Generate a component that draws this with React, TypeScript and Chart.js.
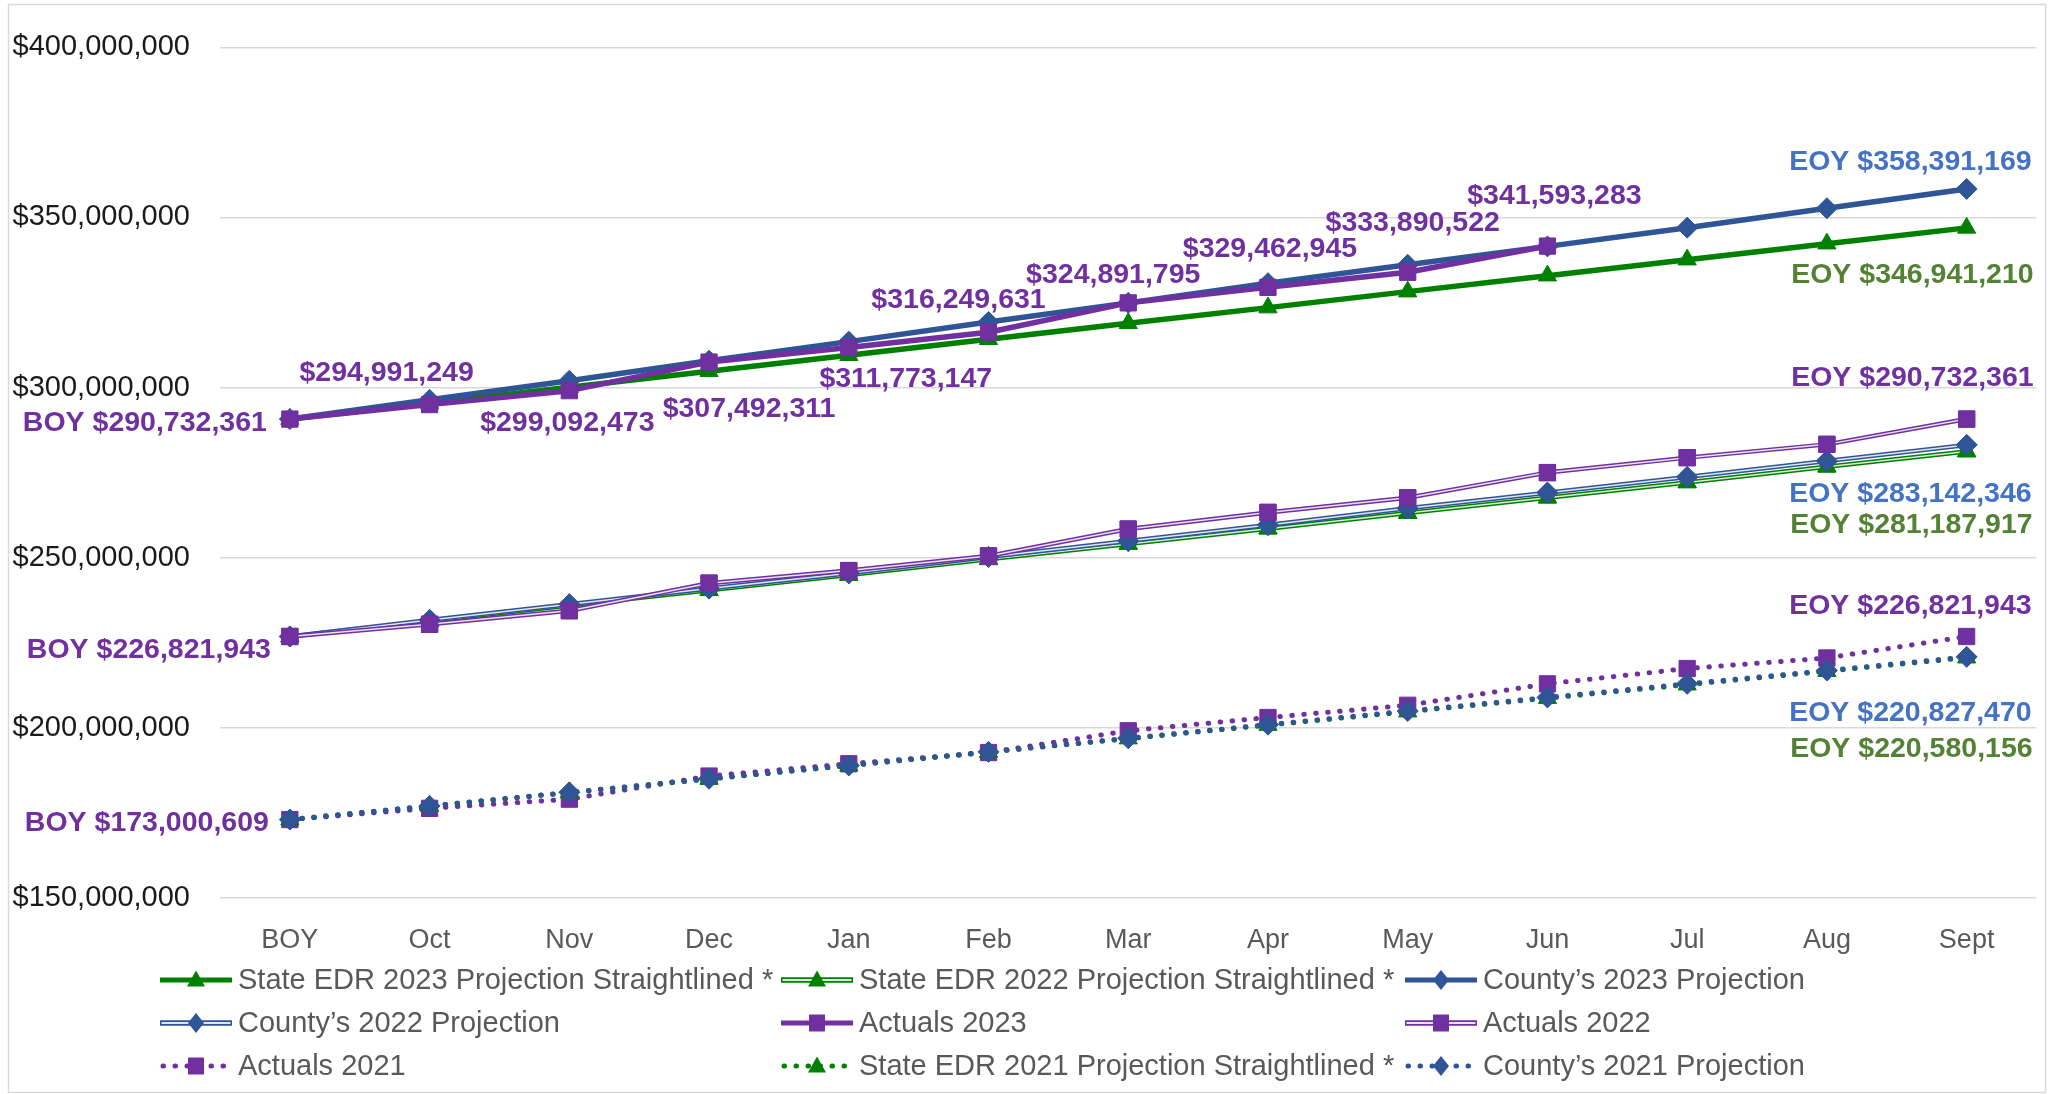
import React, { useEffect, useRef } from 'react';
import { Chart, registerables } from 'chart.js';

Chart.register(...registerables);

// ---------------- data ----------------
const categories = ['BOY', 'Oct', 'Nov', 'Dec', 'Jan', 'Feb', 'Mar', 'Apr', 'May', 'Jun', 'Jul', 'Aug', 'Sept'];

const stateEdr2023 = [290732361, 295400000, 300100000, 304800000, 309500000, 314200000, 318900000, 323500000, 328200000, 332900000, 337600000, 342300000, 346941210];
const stateEdr2022 = [226821943, 231350000, 235900000, 240400000, 244900000, 249500000, 254000000, 258500000, 263100000, 267600000, 272100000, 276700000, 281187917];
const county2023 = [290732361, 296400000, 302000000, 307900000, 313500000, 319300000, 324900000, 330700000, 336100000, 341500000, 347000000, 352700000, 358391169];
const county2022 = [226821943, 231700000, 236300000, 240900000, 245400000, 250200000, 254900000, 259600000, 264500000, 269100000, 273700000, 278400000, 283142346];
const actuals2023 = [290732361, 294991249, 299092473, 307492311, 311773147, 316249631, 324891795, 329462945, 333890522, 341593283, null, null, null];
const actuals2022 = [226821943, 230400000, 234400000, 242500000, 246200000, 250500000, 258400000, 263300000, 267600000, 275000000, 279400000, 283300000, 290732361];
const actuals2021 = [173000609, 176300000, 179000000, 185800000, 189400000, 192700000, 199100000, 203000000, 206600000, 212900000, 217400000, 220500000, 226821943];
const stateEdr2021 = [173000609, 176970000, 180930000, 184900000, 188860000, 192830000, 196790000, 200760000, 204720000, 208690000, 212650000, 216620000, 220580156];
const county2021 = [173000609, 177000000, 181000000, 185000000, 188900000, 192900000, 196900000, 200900000, 204900000, 208900000, 212900000, 216800000, 220827470];

const seriesNames = [
  'State EDR 2023 Projection Straightlined *',
  'State EDR 2022 Projection Straightlined *',
  'County\u2019s 2023 Projection',
  'County\u2019s 2022 Projection',
  'Actuals 2023',
  'Actuals 2022',
  'Actuals 2021',
  'State EDR 2021 Projection Straightlined *',
  'County\u2019s 2021 Projection',
];

const yTicks = { min: 150000000, max: 400000000, step: 50000000 };

// ---------------- styles ----------------
const FONT = '"Liberation Sans", Arial, sans-serif';
const GREEN = '#008000';
const BLUE = '#2F5597';
const PURPLE = '#7030A0';
const LABEL_BLUE = '#4472C4';
const LABEL_GREEN = '#548235';

type Kind = 'solid' | 'double' | 'dotted';
type Marker = 'triangle' | 'rectRot' | 'rect';

const seriesData = [stateEdr2023, stateEdr2022, county2023, county2022, actuals2023, actuals2022, actuals2021, stateEdr2021, county2021];
const seriesColor = [GREEN, GREEN, BLUE, BLUE, PURPLE, PURPLE, PURPLE, GREEN, BLUE];
const seriesKind: Kind[] = ['solid', 'double', 'solid', 'double', 'solid', 'double', 'dotted', 'dotted', 'dotted'];
const seriesMarker: Marker[] = ['triangle', 'triangle', 'rectRot', 'rectRot', 'rect', 'rect', 'rect', 'triangle', 'rectRot'];
const markerRadius: Record<Marker, number> = { triangle: 10.5, rectRot: 10.5, rect: 11.5 };

// data labels: series index, point index, prefix, colour, alignment and offset from the point
const labelDefs = [
  { s: 4, p: 0, pre: 'BOY ', color: PURPLE, align: 'right', dx: -23, dy: 4 },
  { s: 4, p: 1, pre: '', color: PURPLE, align: 'center', dx: -43, dy: -31 },
  { s: 4, p: 2, pre: '', color: PURPLE, align: 'center', dx: -2, dy: 32 },
  { s: 4, p: 3, pre: '', color: PURPLE, align: 'center', dx: 40, dy: 47 },
  { s: 4, p: 4, pre: '', color: PURPLE, align: 'center', dx: 57, dy: 32 },
  { s: 4, p: 5, pre: '', color: PURPLE, align: 'center', dx: -30, dy: -32 },
  { s: 4, p: 6, pre: '', color: PURPLE, align: 'center', dx: -15, dy: -28 },
  { s: 4, p: 7, pre: '', color: PURPLE, align: 'center', dx: 2, dy: -38 },
  { s: 4, p: 8, pre: '', color: PURPLE, align: 'center', dx: 5, dy: -49 },
  { s: 4, p: 9, pre: '', color: PURPLE, align: 'center', dx: 7, dy: -50 },
  { s: 2, p: 12, pre: 'EOY ', color: LABEL_BLUE, align: 'right', dx: 65, dy: -27 },
  { s: 0, p: 12, pre: 'EOY ', color: LABEL_GREEN, align: 'right', dx: 67, dy: 47 },
  { s: 5, p: 12, pre: 'EOY ', color: PURPLE, align: 'right', dx: 67, dy: -41 },
  { s: 3, p: 12, pre: 'EOY ', color: LABEL_BLUE, align: 'right', dx: 65, dy: 49 },
  { s: 1, p: 12, pre: 'EOY ', color: LABEL_GREEN, align: 'right', dx: 66, dy: 74 },
  { s: 5, p: 0, pre: 'BOY ', color: PURPLE, align: 'right', dx: -19, dy: 14 },
  { s: 6, p: 0, pre: 'BOY ', color: PURPLE, align: 'right', dx: -21, dy: 4 },
  { s: 6, p: 12, pre: 'EOY ', color: PURPLE, align: 'right', dx: 65, dy: -30 },
  { s: 8, p: 12, pre: 'EOY ', color: LABEL_BLUE, align: 'right', dx: 65, dy: 56 },
  { s: 7, p: 12, pre: 'EOY ', color: LABEL_GREEN, align: 'right', dx: 66, dy: 91 },
];

// legend layout: order of series, column x and row y
const legendOrder = [0, 1, 2, 3, 4, 5, 6, 7, 8];
const legendCols = [160, 781, 1405];
const legendRows = [980, 1023, 1066];

const fmt = (v: number) => '$' + Math.round(v).toLocaleString('en-US');
const INNER = 'rgba(255,255,255,0.85)';

function drawMarker(ctx: CanvasRenderingContext2D, m: Marker, x: number, y: number, color: string) {
  ctx.save();
  ctx.fillStyle = color;
  ctx.beginPath();
  if (m === 'triangle') {
    ctx.moveTo(x, y - 9.5);
    ctx.lineTo(x + 9, y + 6.5);
    ctx.lineTo(x - 9, y + 6.5);
  } else if (m === 'rectRot') {
    ctx.moveTo(x, y - 10);
    ctx.lineTo(x + 8, y);
    ctx.lineTo(x, y + 10);
    ctx.lineTo(x - 8, y);
  } else {
    ctx.rect(x - 8, y - 8.5, 16, 17);
  }
  ctx.closePath();
  ctx.fill();
  ctx.restore();
}

const framePlugin = {
  id: 'frame',
  beforeDraw(chart: any) {
    const ctx = chart.ctx;
    ctx.save();
    ctx.fillStyle = '#ffffff';
    ctx.fillRect(0, 0, chart.width, chart.height);
    ctx.restore();
  },
  afterDraw(chart: any) {
    const ctx = chart.ctx;
    ctx.save();
    ctx.strokeStyle = '#D9D9D9';
    ctx.lineWidth = 1.5;
    ctx.strokeRect(8.5, 4.5, 2037, 1088);
    ctx.restore();
  },
};

const doubleLinePlugin = {
  id: 'doubleLine',
  afterDatasetDraw(chart: any, args: any) {
    if (seriesKind[args.index] !== 'double') return;
    const ctx = chart.ctx;
    const pts = args.meta.data.filter((p: any) => !p.skip);
    ctx.save();
    ctx.strokeStyle = INNER;
    ctx.lineWidth = 1.5;
    ctx.lineJoin = 'round';
    ctx.beginPath();
    pts.forEach((p: any, i: number) => (i ? ctx.lineTo(p.x, p.y) : ctx.moveTo(p.x, p.y)));
    ctx.stroke();
    pts.forEach((p: any) => p.draw(ctx, chart.chartArea));
    ctx.restore();
  },
};

const dataLabelPlugin = {
  id: 'dataLabels',
  afterDatasetsDraw(chart: any) {
    const ctx = chart.ctx;
    ctx.save();
    ctx.font = `bold 28.5px ${FONT}`;
    ctx.textBaseline = 'middle';
    for (const L of labelDefs) {
      const p = chart.getDatasetMeta(L.s).data[L.p];
      const v = seriesData[L.s][L.p];
      if (!p || v == null) continue;
      ctx.fillStyle = L.color;
      ctx.textAlign = L.align;
      ctx.fillText(L.pre + fmt(v), p.x + L.dx, p.y + L.dy);
    }
    ctx.restore();
  },
};

const legendPlugin = {
  id: 'customLegend',
  afterDraw(chart: any) {
    const ctx = chart.ctx;
    ctx.save();
    legendOrder.forEach((s, i) => {
      const x0 = legendCols[i % 3];
      const y = legendRows[Math.floor(i / 3)];
      const x1 = x0 + 72;
      const color = seriesColor[s];
      const kind = seriesKind[s];
      ctx.save();
      ctx.strokeStyle = color;
      if (kind === 'dotted') {
        ctx.lineWidth = 5;
        ctx.lineCap = 'round';
        ctx.setLineDash([0.5, 11.5]);
        ctx.beginPath();
        ctx.moveTo(x0 + 3, y);
        ctx.lineTo(x1, y);
        ctx.stroke();
      } else {
        ctx.lineWidth = kind === 'double' ? 5.5 : 5;
        ctx.beginPath();
        ctx.moveTo(x0, y);
        ctx.lineTo(x1, y);
        ctx.stroke();
        if (kind === 'double') {
          ctx.strokeStyle = INNER;
          ctx.lineWidth = 2.2;
          ctx.beginPath();
          ctx.moveTo(x0 + 1.5, y);
          ctx.lineTo(x1 - 1.5, y);
          ctx.stroke();
        }
      }
      ctx.restore();
      drawMarker(ctx, seriesMarker[s], (x0 + x1) / 2, y, color);
      ctx.fillStyle = '#595959';
      ctx.font = `29px ${FONT}`;
      ctx.textAlign = 'left';
      ctx.textBaseline = 'middle';
      ctx.fillText(seriesNames[s], x1 + 6, y + 1);
    });
    ctx.restore();
  },
};

export default function App() {
  const ref = useRef<HTMLCanvasElement | null>(null);

  useEffect(() => {
    document.body.style.margin = '0';
    document.body.style.overflow = 'hidden';
    const canvas = ref.current;
    if (!canvas) return;

    const datasets = seriesNames.map((name, i) => {
      const kind = seriesKind[i];
      const marker = seriesMarker[i];
      return {
        label: name,
        data: seriesData[i],
        borderColor: seriesColor[i],
        backgroundColor: seriesColor[i],
        borderWidth: kind === 'double' ? 4.5 : kind === 'dotted' ? 5 : 5.5,
        borderDash: kind === 'dotted' ? [0.5, 11.5] : [],
        borderCapStyle: kind === 'dotted' ? 'round' : 'butt',
        borderJoinStyle: 'round',
        pointStyle: marker,
        pointRadius: markerRadius[marker],
        pointBackgroundColor: seriesColor[i],
        pointBorderColor: seriesColor[i],
        pointBorderWidth: 1,
        tension: 0,
        fill: false,
        spanGaps: false,
        order: 100 - i,
      };
    });

    const chart = new Chart(canvas, {
      type: 'line',
      data: { labels: categories, datasets: datasets as any },
      options: {
        responsive: false,
        animation: false,
        devicePixelRatio: 1,
        layout: { padding: { top: 46, right: 8, left: 0, bottom: 0 } },
        plugins: {
          legend: { display: false },
          tooltip: { enabled: false },
        },
        scales: {
          x: {
            type: 'category',
            offset: true,
            grid: { display: false, drawTicks: false },
            border: { display: false },
            ticks: {
              color: '#595959',
              font: { family: FONT, size: 27 },
              padding: 27,
              maxRotation: 0,
              autoSkip: false,
            },
            afterFit: (s: any) => {
              s.height = 196.2;
            },
          },
          y: {
            min: yTicks.min,
            max: yTicks.max,
            ticks: {
              stepSize: yTicks.step,
              color: '#1a1a1a',
              font: { family: FONT, size: 29 },
              padding: 30,
              callback: (v: any) => fmt(Number(v)),
            },
            grid: { color: '#D9D9D9', lineWidth: 1.5, drawTicks: false },
            border: { display: false },
            afterFit: (s: any) => {
              s.width = 220;
            },
          },
        },
      } as any,
      plugins: [framePlugin, doubleLinePlugin, dataLabelPlugin, legendPlugin],
    });

    return () => chart.destroy();
  }, []);

  return <canvas ref={ref} width={2049} height={1094} style={{ display: 'block' }} />;
}
